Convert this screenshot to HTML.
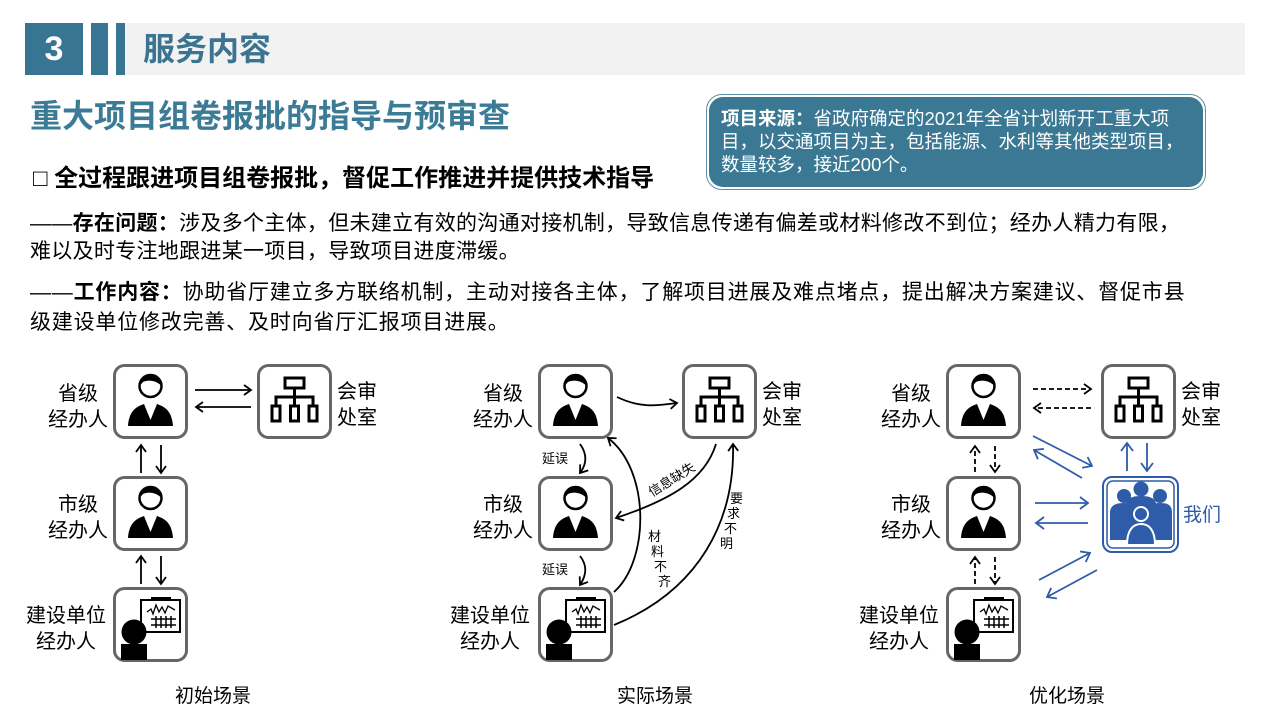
<!DOCTYPE html>
<html><head><meta charset="utf-8"><style>
*{margin:0;padding:0;box-sizing:border-box}
body{width:1267px;height:718px;background:#fff;position:relative;overflow:hidden;font-family:"Liberation Sans","Noto Sans CJK SC",sans-serif;color:#000}
.abs{position:absolute;white-space:nowrap}
</style></head><body>
<div class="abs" style="left:125px;top:23px;width:1120px;height:52px;background:#f2f2f2"></div>
<div class="abs" style="left:25px;top:23px;width:58px;height:52px;background:#387592;color:#fff;font-weight:bold;font-size:34px;line-height:52px;text-align:center">3</div>
<div class="abs" style="left:91px;top:23px;width:17px;height:52px;background:#387592"></div>
<div class="abs" style="left:116px;top:23px;width:9px;height:52px;background:#387592"></div>
<div class="abs" style="left:143px;top:27px;font-size:32px;font-weight:bold;color:#3a7490;line-height:44px">服务内容</div>
<div class="abs" style="left:30px;top:95px;font-size:32px;font-weight:bold;color:#3c7b95;line-height:42px">重大项目组卷报批的指导与预审查</div>
<div class="abs" style="left:33px;top:163px;font-size:24px;font-weight:bold;line-height:32px">□ 全过程跟进项目组卷报批，督促工作推进并提供技术指导</div>
<div class="abs" style="left:30px;top:210px;font-size:21px;line-height:28px;letter-spacing:0.3px">——<b>存在问题：</b>涉及多个主体，但未建立有效的沟通对接机制，导致信息传递有偏差或材料修改不到位；经办人精力有限，<br>难以及时专注地跟进某一项目，导致项目进度滞缓。</div>
<div class="abs" style="left:30px;top:278px;font-size:21px;line-height:30px;letter-spacing:0.8px">——<b>工作内容：</b>协助省厅建立多方联络机制，主动对接各主体，了解项目进展及难点堵点，提出解决方案建议、督促市县<br>级建设单位修改完善、及时向省厅汇报项目进展。</div>
<div class="abs" style="left:706px;top:94px;width:500px;height:96px;border:1px solid #5d8ea5;border-radius:16px;background:#fff;padding:2px">
<div style="width:100%;height:100%;background:#3a7893;border-radius:14px;color:#fff;font-size:18.5px;line-height:23px;padding:10px 0 0 12px;white-space:nowrap">
<b>项目来源：</b>省政府确定的2021年全省计划新开工重大项<br>目，以交通项目为主，包括能源、水利等其他类型项目，<br>数量较多，接近200个。</div></div>

<svg class="abs" style="left:0;top:0" width="1267" height="718" xmlns="http://www.w3.org/2000/svg">
<defs>
<marker id="a" markerWidth="12" markerHeight="12" refX="9" refY="6" orient="auto" markerUnits="userSpaceOnUse"><path d="M2,1 L9,6 L2,11" fill="none" stroke="#000" stroke-width="1.8"/></marker>
<marker id="b" markerWidth="14" markerHeight="14" refX="10" refY="7" orient="auto" markerUnits="userSpaceOnUse"><path d="M2,1 L10,7 L2,13" fill="none" stroke="#2e5ca8" stroke-width="1.8"/></marker>
<symbol id="person" viewBox="0 0 75 75"><rect x="1.5" y="1.5" width="72" height="72" rx="10" fill="#fff" stroke="#666" stroke-width="3"/>
<path d="M15,62 C16,48 22,43 31,40 L37.5,56 L44,40 C53,43 59,48 60,62 Z" fill="#000"/>
<circle cx="37.5" cy="22" r="11" fill="#fff" stroke="#000" stroke-width="2.5"/>
<path d="M26.5,22 A11,11 0 0 1 48.5,22 C44,17 36,15 30,18 Z" fill="#000"/></symbol>
<symbol id="org" viewBox="0 0 75 75"><rect x="1.5" y="1.5" width="72" height="72" rx="10" fill="#fff" stroke="#666" stroke-width="3"/>
<g fill="none" stroke="#000" stroke-width="3"><rect x="28" y="14" width="19" height="10"/><path d="M37.5,24 V33 M19,42 V33 H56 V42 M37.5,33 V42"/><rect x="15" y="42" width="8" height="15"/><rect x="33.5" y="42" width="8" height="15"/><rect x="52" y="42" width="8" height="15"/></g></symbol>
<symbol id="pres" viewBox="0 0 75 75"><rect x="1.5" y="1.5" width="72" height="72" rx="10" fill="#fff" stroke="#666" stroke-width="3"/>
<rect x="28" y="13" width="39" height="32" fill="#fff" stroke="#000" stroke-width="2"/><rect x="38" y="10" width="20" height="4" fill="#000"/>
<path d="M34,25 L38,22 L40,27 L43,18 L46,25 L49,20 L52,26 L55,19 L62,23" fill="none" stroke="#000" stroke-width="1.3"/>
<path d="M38,32 H63 M38,38 H63 M43,29 V41 M48,29 V41 M53,29 V41 M58,29 V41" stroke="#000" stroke-width="1.5"/>
<circle cx="21" cy="45" r="12.5" fill="#000"/><rect x="8" y="57" width="26" height="16" fill="#000"/></symbol>
</defs>
<g font-size="20" fill="#000">
<use href="#person" x="113" y="364" width="75" height="75"/>
<use href="#org" x="257" y="364" width="75" height="75"/>
<use href="#person" x="113" y="476" width="75" height="75"/>
<use href="#pres" x="113" y="587" width="75" height="75"/>
<text x="78" y="400" text-anchor="middle">省级</text><text x="78" y="426" text-anchor="middle">经办人</text>
<text x="78" y="511" text-anchor="middle">市级</text><text x="78" y="537" text-anchor="middle">经办人</text>
<text x="66" y="622" text-anchor="middle">建设单位</text><text x="66" y="648" text-anchor="middle">经办人</text>
<text x="337" y="398">会审</text><text x="337" y="424">处室</text>
<text x="213" y="702" text-anchor="middle" font-size="19">初始场景</text>
<g stroke="#000" stroke-width="1.8" fill="none">
<line x1="195" y1="390" x2="251" y2="390" marker-end="url(#a)"/>
<line x1="251" y1="407" x2="196" y2="407" marker-end="url(#a)"/>
<line x1="141" y1="473" x2="141" y2="445" marker-end="url(#a)"/>
<line x1="161" y1="445" x2="161" y2="473" marker-end="url(#a)"/>
<line x1="141" y1="584" x2="141" y2="556" marker-end="url(#a)"/>
<line x1="161" y1="556" x2="161" y2="584" marker-end="url(#a)"/>
</g>
<use href="#person" x="538" y="364" width="75" height="75"/>
<use href="#org" x="682" y="364" width="75" height="75"/>
<use href="#person" x="538" y="476" width="75" height="75"/>
<use href="#pres" x="538" y="587" width="75" height="75"/>
<text x="503" y="400" text-anchor="middle">省级</text><text x="503" y="426" text-anchor="middle">经办人</text>
<text x="503" y="511" text-anchor="middle">市级</text><text x="503" y="537" text-anchor="middle">经办人</text>
<text x="490" y="622" text-anchor="middle">建设单位</text><text x="490" y="648" text-anchor="middle">经办人</text>
<text x="762" y="398">会审</text><text x="762" y="424">处室</text>
<text x="655" y="702" text-anchor="middle" font-size="19">实际场景</text>
<g stroke="#000" stroke-width="1.8" fill="none">
<path d="M617,397 C640,408 655,406 677,403" marker-end="url(#a)"/>
<path d="M580,444 C588,455 586,465 580,473" marker-end="url(#a)"/>
<path d="M580,556 C588,566 586,576 580,585" marker-end="url(#a)"/>
<path d="M716,444 C705,480 670,500 616,518" marker-end="url(#a)"/>
<path d="M614,592 C650,560 650,470 608,438" marker-end="url(#a)"/>
<path d="M614,625 C700,590 735,520 733,444" marker-end="url(#a)"/>
</g>
<g font-size="13">
<text x="542" y="463">延误</text><text x="542" y="574">延误</text>
<text transform="translate(652,497) rotate(-32)">信息缺失</text>
<text font-size="13"><tspan x="648" y="541">材</tspan><tspan x="651" dy="15">料</tspan><tspan x="654" dy="15">不</tspan><tspan x="658" dy="15">齐</tspan></text>
<text font-size="13"><tspan x="730" y="503">要</tspan><tspan x="727" dy="15">求</tspan><tspan x="724" dy="15">不</tspan><tspan x="720" dy="15">明</tspan></text>
</g>
<use href="#person" x="946" y="364" width="75" height="75"/>
<use href="#org" x="1101" y="364" width="75" height="75"/>
<use href="#person" x="946" y="476" width="75" height="75"/>
<use href="#pres" x="946" y="587" width="75" height="75"/>
<text x="911" y="400" text-anchor="middle">省级</text><text x="911" y="426" text-anchor="middle">经办人</text>
<text x="911" y="511" text-anchor="middle">市级</text><text x="911" y="537" text-anchor="middle">经办人</text>
<text x="899" y="622" text-anchor="middle">建设单位</text><text x="899" y="648" text-anchor="middle">经办人</text>
<text x="1181" y="398">会审</text><text x="1181" y="424">处室</text>
<text x="1067" y="702" text-anchor="middle" font-size="19">优化场景</text>
<g stroke="#000" stroke-width="1.8" fill="none" stroke-dasharray="5,3">
<line x1="1033" y1="389" x2="1091" y2="389" marker-end="url(#a)"/>
<line x1="1091" y1="408" x2="1034" y2="408" marker-end="url(#a)"/>
<line x1="975" y1="472" x2="975" y2="446" marker-end="url(#a)"/>
<line x1="995" y1="446" x2="995" y2="472" marker-end="url(#a)"/>
<line x1="975" y1="584" x2="975" y2="557" marker-end="url(#a)"/>
<line x1="995" y1="557" x2="995" y2="584" marker-end="url(#a)"/>
</g>
<g stroke="#2e5ca8" stroke-width="1.8" fill="none">
<line x1="1033" y1="436" x2="1092" y2="466" marker-end="url(#b)"/>
<line x1="1082" y1="478" x2="1034" y2="450" marker-end="url(#b)"/>
<line x1="1035" y1="503" x2="1088" y2="503" marker-end="url(#b)"/>
<line x1="1088" y1="523" x2="1036" y2="523" marker-end="url(#b)"/>
<line x1="1039" y1="580" x2="1090" y2="553" marker-end="url(#b)"/>
<line x1="1097" y1="570" x2="1047" y2="597" marker-end="url(#b)"/>
<line x1="1127" y1="471" x2="1127" y2="443" marker-end="url(#b)"/>
<line x1="1147" y1="443" x2="1147" y2="471" marker-end="url(#b)"/>
</g>
<rect x="1103" y="477" width="75" height="75" rx="9" fill="#fff" stroke="#2e5ca8" stroke-width="2"/>
<rect x="1107" y="481" width="67" height="67" rx="6" fill="#fff" stroke="#2e5ca8" stroke-width="1.5"/>
<g fill="#2e5ca8">
<circle cx="1124" cy="496" r="7"/><circle cx="1141" cy="489" r="7.5"/><circle cx="1160" cy="496" r="7"/>
<path d="M1110,540 V513 C1110,505 1116,503 1124,503 C1132,503 1138,505 1138,513 V540 Z"/>
<path d="M1126,530 V505 C1126,498 1133,496 1141,496 C1149,496 1156,498 1156,505 V530 Z"/>
<path d="M1144,540 V513 C1144,505 1150,503 1160,503 C1168,503 1172,505 1172,513 V540 Z"/>
</g>
<circle cx="1141" cy="514" r="7" fill="#2e5ca8" stroke="#fff" stroke-width="2"/>
<path d="M1127,545 C1127,530 1133,524 1141,524 C1149,524 1155,530 1155,545 Z" fill="#2e5ca8" stroke="#fff" stroke-width="2"/>
<text x="1183" y="521" fill="#2e5ca8" font-size="19">我们</text>
</g>
</svg>
</body></html>
